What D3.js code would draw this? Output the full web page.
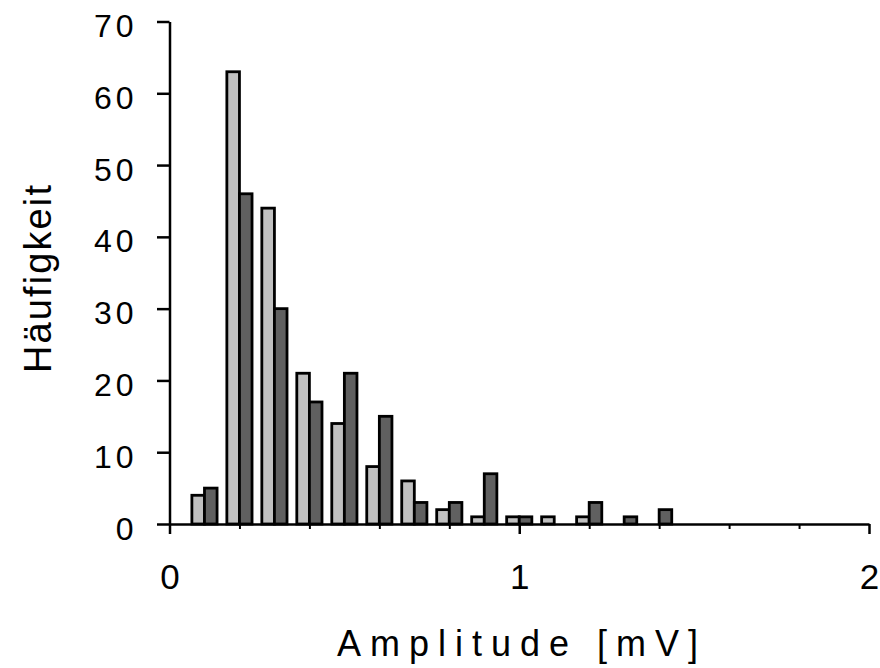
<!DOCTYPE html>
<html>
<head>
<meta charset="utf-8">
<script src="https://cdn.jsdelivr.net/npm/d3@7"></script>
<style>
  html, body { margin: 0; padding: 0; background: #ffffff; }
  svg { display: block; }
  text { font-family: "Liberation Sans", Arial, sans-serif; fill: #000; }
</style>
</head>
<body>
<svg id="chart" width="880" height="668"></svg>
<script>
// ---- data ----
const binCenters = [0.1, 0.2, 0.3, 0.4, 0.5, 0.6, 0.7, 0.8, 0.9, 1.0, 1.1, 1.2, 1.3, 1.4];
const seriesLight = [4, 63, 44, 21, 14, 8, 6, 2, 1, 1, 1, 1, 0, 0];
const seriesDark  = [5, 46, 30, 17, 21, 15, 3, 3, 7, 1, 0, 3, 1, 2];
const yTicks = [0, 10, 20, 30, 40, 50, 60, 70];
const xMajorTicks = [0, 1, 2];
const xMinorTicks = [0.2, 0.4, 0.6, 0.8, 1.2, 1.4, 1.6, 1.8];
const xTitle = "Amplitude [mV]";
const yTitle = "Häufigkeit";

// ---- layout ----
const svg = d3.select("#chart");
const x = d3.scaleLinear().domain([0, 2]).range([169.5, 869]);
const y = d3.scaleLinear().domain([0, 70]).range([524, 21.5]);
const barW = x(0.036) - x(0);

// bars
const g = svg.append("g");
const bars = [];
binCenters.forEach((c, i) => {
  bars.push({c, v: seriesLight[i], s: 0});
  bars.push({c, v: seriesDark[i], s: 1});
});
g.selectAll("rect")
  .data(bars.filter(d => d.v > 0))
  .join("rect")
  .attr("x", d => d.s === 0 ? x(d.c) - barW : x(d.c))
  .attr("width", barW)
  .attr("y", d => y(d.v))
  .attr("height", d => y(0) - y(d.v))
  .attr("fill", d => d.s === 0 ? "#c0c0c0" : "#606060")
  .attr("stroke", "#000")
  .attr("stroke-width", 2.8);

// y axis
const yAx = svg.append("g")
  .attr("transform", `translate(${x(0)},0)`)
  .call(d3.axisLeft(y).tickValues(yTicks).tickSize(12.5).tickSizeOuter(0).tickFormat(d3.format("d")));
yAx.select(".domain").attr("stroke", "#000").attr("stroke-width", 2.5);
yAx.selectAll(".tick line").attr("stroke", "#000").attr("stroke-width", 2.5);
yAx.selectAll(".tick text")
  .attr("x", -32).attr("dy", 15)
  .attr("font-size", 32).attr("letter-spacing", 4)
  .attr("font-family", "Liberation Sans, Arial, sans-serif")
  .attr("fill", "#000");

// x axis minor ticks
const xMin = svg.append("g")
  .attr("transform", `translate(0,${y(0)})`)
  .call(d3.axisBottom(x).tickValues(xMinorTicks).tickSize(5).tickSizeOuter(0).tickFormat(""));
xMin.select(".domain").attr("stroke", "#000").attr("stroke-width", 2.5);
xMin.selectAll(".tick line").attr("stroke", "#000").attr("stroke-width", 2);

// x axis major ticks
const xMaj = svg.append("g")
  .attr("transform", `translate(0,${y(0)})`)
  .call(d3.axisBottom(x).tickValues(xMajorTicks).tickSize(10).tickSizeOuter(0).tickFormat(d3.format("d")));
xMaj.select(".domain").remove();
xMaj.selectAll(".tick line").attr("stroke", "#000").attr("stroke-width", 2.5);
xMaj.selectAll(".tick text")
  .attr("y", 65).attr("dy", 0)
  .attr("font-size", 35)
  .attr("font-family", "Liberation Sans, Arial, sans-serif")
  .attr("fill", "#000");

// titles
svg.append("text")
  .attr("x", 517.5).attr("y", 656)
  .attr("text-anchor", "middle")
  .attr("font-size", 36)
  .attr("textLength", 361).attr("lengthAdjust", "spacing")
  .text(xTitle);

svg.append("text")
  .attr("transform", "translate(51,279) rotate(-90)")
  .attr("text-anchor", "middle")
  .attr("font-size", 38)
  .attr("textLength", 188).attr("lengthAdjust", "spacing")
  .text(yTitle);
</script>
</body>
</html>
